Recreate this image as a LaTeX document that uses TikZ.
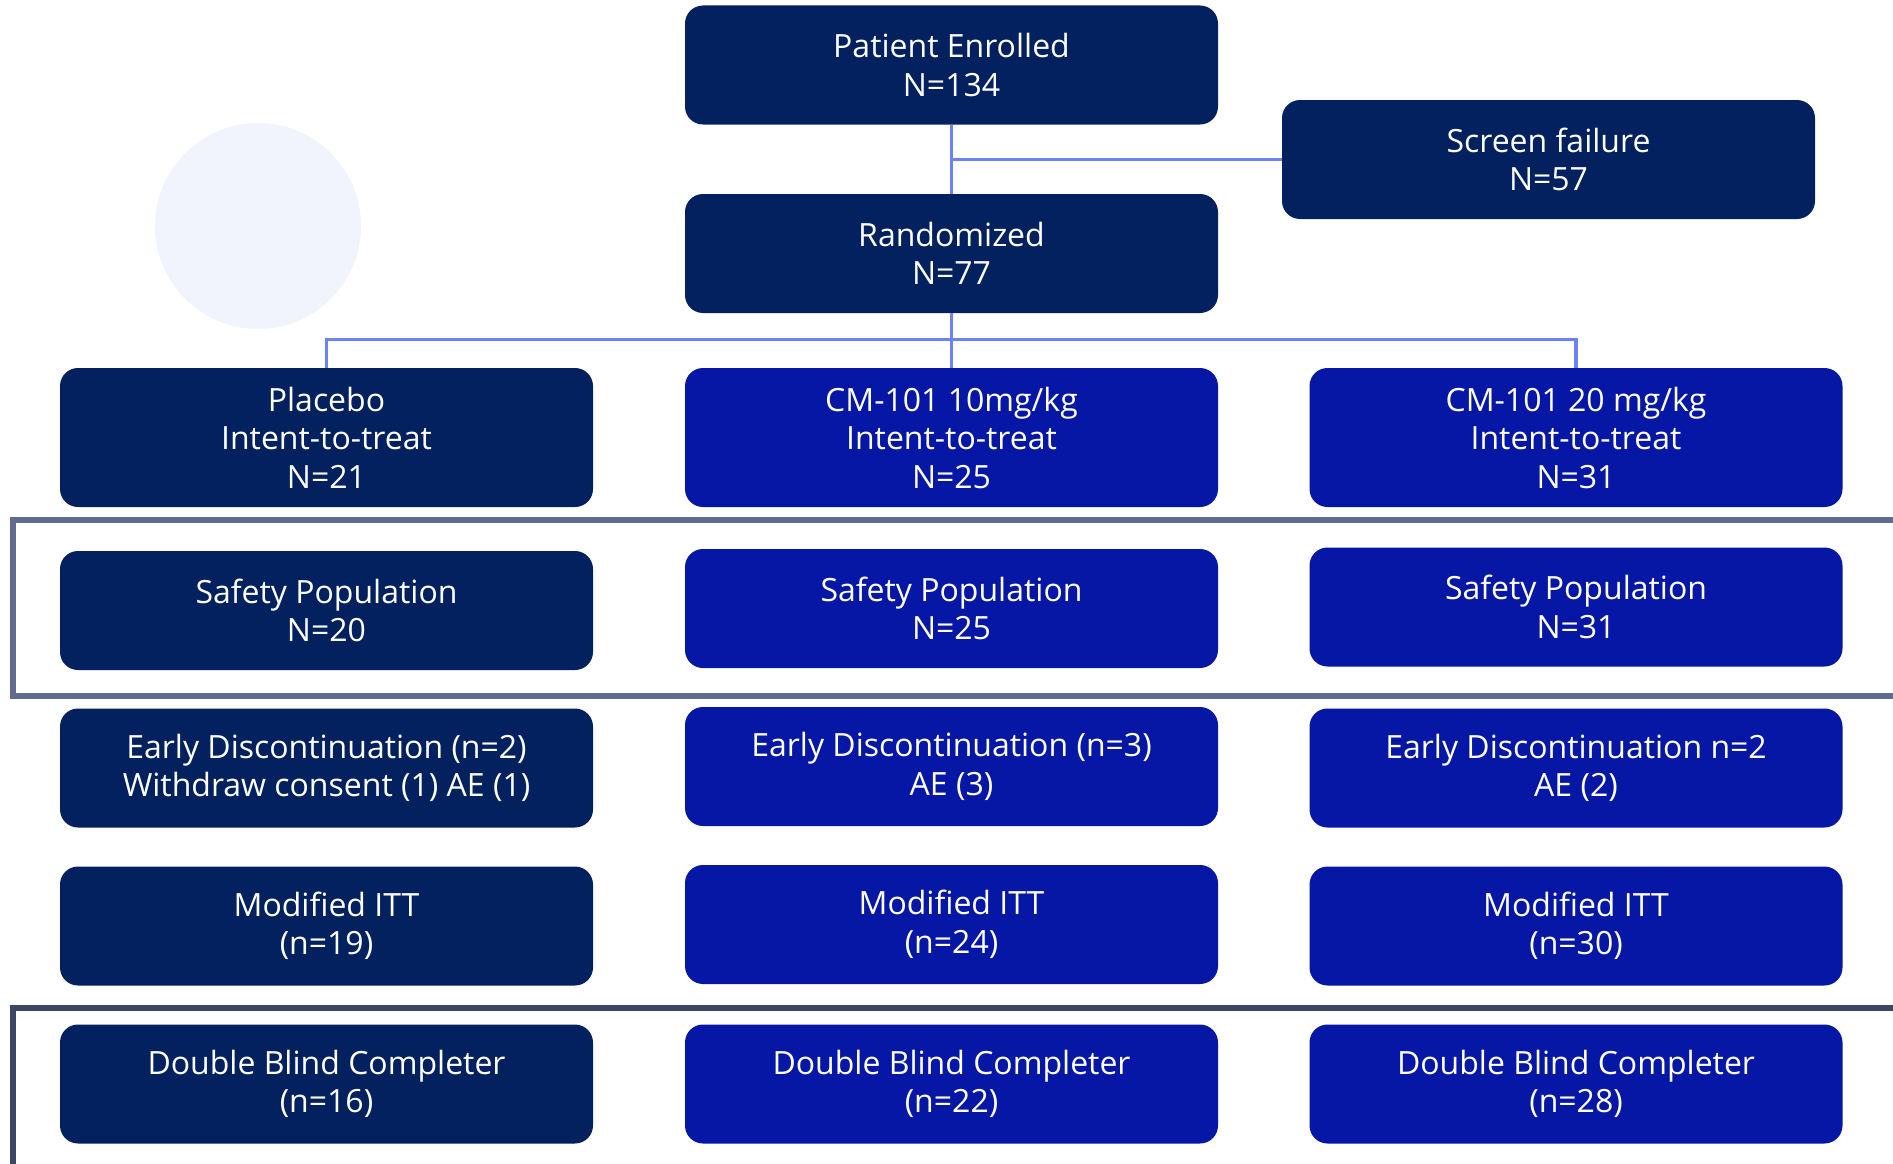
\documentclass[tikz,border=0pt]{standalone}
\usepackage{fontspec}
\setmainfont{Open Sans}
\definecolor{navy}{HTML}{03205F}
\definecolor{royal}{HTML}{0617A5}
\definecolor{conn}{HTML}{6A84F5}
\definecolor{frameA}{HTML}{5F6B8F}
\definecolor{frameB}{HTML}{3B4661}
\definecolor{circ}{HTML}{F1F4FC}
\begin{document}
\begin{tikzpicture}[x=1pt,y=-1pt,
  box/.style={rounded corners=18pt, minimum width=533pt, minimum height=119pt, inner sep=0pt,
    text=white, align=center, font=\fontsize{32}{38.5}\selectfont},
  darkbox/.style={box, fill=navy},
  bluebox/.style={box, fill=royal},
  connline/.style={draw=conn, line width=3.3pt},
  frm/.style={line width=6pt}]
\useasboundingbox (0,0) rectangle (1893,1164);
\clip (0,0) rectangle (1893,1164);
\fill[circ] (258,226) circle (103);
% frames
\draw[frm, draw=frameA] (13,520) rectangle (1910,696);
\draw[frm, draw=frameB] (13,1008) rectangle (1910,1168);
% top
\node[darkbox] (pe) at (951.5,65) {Patient Enrolled\\N=134};
\node[darkbox] (sf) at (1548.5,159.5) {Screen failure\\N=57};
\node[darkbox] (rand) at (951.5,253.5) {Randomized\\N=77};
% ITT
\node[darkbox, minimum height=139pt] (itt1) at (326.5,437.5) {Placebo\\Intent-to-treat\\N=21};
\node[bluebox, minimum height=139pt] (itt2) at (951.5,437.5) {CM-101 10mg/kg\\Intent-to-treat\\N=25};
\node[bluebox, minimum height=139pt] (itt3) at (1576,437.5) {CM-101 20 mg/kg\\Intent-to-treat\\N=31};
% safety
\node[darkbox] (sp1) at (326.5,610.5) {Safety Population\\N=20};
\node[bluebox] (sp2) at (951.5,608.5) {Safety Population\\N=25};
\node[bluebox] (sp3) at (1576,607) {Safety Population\\N=31};
% early disc
\node[darkbox] (ed1) at (326.5,768) {Early Discontinuation (n=2)\\Withdraw consent (1) AE (1)};
\node[bluebox] (ed2) at (951.5,766.5) {Early Discontinuation (n=3)\\AE (3)};
\node[bluebox] (ed3) at (1576,768) {Early Discontinuation n=2\\AE (2)};
% modified itt
\node[darkbox] (m1) at (326.5,926) {Modified ITT\\(n=19)};
\node[bluebox] (m2) at (951.5,924.5) {Modified ITT\\(n=24)};
\node[bluebox] (m3) at (1576,926) {Modified ITT\\(n=30)};
% completers
\node[darkbox] (c1) at (326.5,1084) {Double Blind Completer\\(n=16)};
\node[bluebox] (c2) at (951.5,1084) {Double Blind Completer\\(n=22)};
\node[bluebox] (c3) at (1576,1084) {Double Blind Completer\\(n=28)};
% connectors
\draw[connline] (pe.south) -- (rand.north);
\draw[connline] (pe.south |- sf.west) -- (sf.west);
\draw[connline] (rand.south) -- (itt2.north);
\draw[connline] (itt1.north) -- ++(0,-28) coordinate (br) -| (itt3.north);
\end{tikzpicture}
\end{document}
